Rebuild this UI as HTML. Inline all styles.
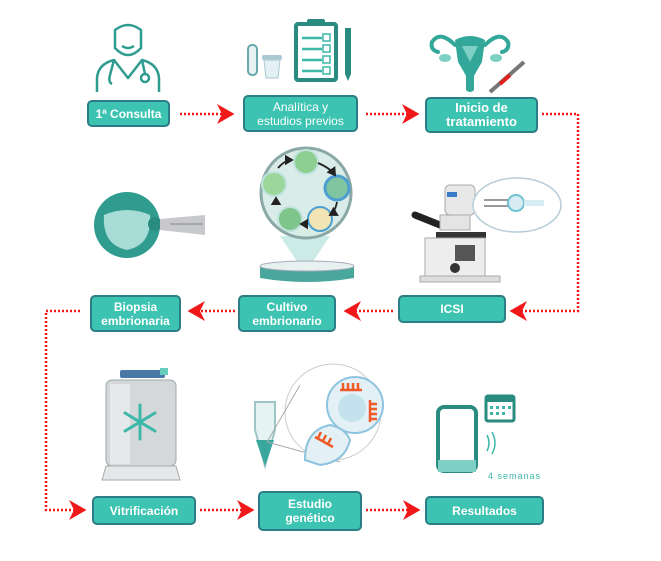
<!DOCTYPE html>
<html><head><style>
body{margin:0;width:661px;height:561px;background:#fff;position:relative;overflow:hidden;font-family:"Liberation Sans",sans-serif}
.b{position:absolute;background:#3cc3b1;border:2px solid #2c7d85;border-radius:5px;color:#fff;font-weight:bold;font-size:12px;line-height:14px;display:flex;align-items:center;justify-content:center;text-align:center;box-sizing:border-box}
svg{position:absolute;left:0;top:0}
</style></head><body>
<svg width="661" height="561">
<defs><marker id="a" markerWidth="8" markerHeight="8" refX="6" refY="4" orient="auto"><path d="M0,0 L7,4 L0,8 L2,4z" fill="#f01818"/></marker>
<marker id="k" markerWidth="6" markerHeight="6" refX="4" refY="3" orient="auto"><path d="M0,0 L5,3 L0,6z" fill="#222"/></marker></defs>
<g stroke="#f01818" stroke-width="2.5" stroke-dasharray="2,2" fill="none" marker-end="url(#a)">
<path d="M180,114 H232"/><path d="M366,114 H417"/>
<path d="M542,114 H578 V311 H512"/>
<path d="M393,311 H346"/><path d="M235,311 H190"/>
<path d="M80,311 H46 V510 H84"/>
<path d="M200,510 H252"/><path d="M366,510 H418"/>
</g>
<g fill="none" stroke="#2f9c90" stroke-width="2.5" stroke-linejoin="round">
<path d="M115,30 Q128,20 141,30 V48 Q128,62 115,48 Z"/>
<path d="M122,46 Q128,50 134,46"/>
<path d="M97,92 V78 Q98,64 114,60 L128,78 L142,60 Q158,64 159,78 V92"/>
<path d="M114,60 L110,75 Q108,82 112,84"/><circle cx="145" cy="78" r="4"/><path d="M142,60 L145,74"/>
</g>
<rect x="248" y="45" width="9" height="30" rx="4" fill="#e6f3f2" stroke="#6aa8b0" stroke-width="2"/>
<rect x="262" y="55" width="20" height="5" rx="2" fill="#aac9d2"/>
<path d="M264,60 h16 l-2,18 h-12z" fill="#e3f0f4" stroke="#aac9d2"/>
<rect x="296" y="24" width="40" height="56" rx="2" fill="#fff" stroke="#2a8c80" stroke-width="4"/>
<rect x="307" y="19" width="18" height="7" rx="2" fill="#2a8c80"/>
<g stroke="#3cb7a8" stroke-width="2.5"><path d="M302,38h20M302,49h20M302,60h20M302,71h20"/></g>
<g fill="none" stroke="#3cb7a8" stroke-width="1.5"><rect x="323" y="34" width="7" height="7"/><rect x="323" y="45" width="7" height="7"/><rect x="323" y="56" width="7" height="7"/><rect x="323" y="67" width="7" height="7"/></g>
<path d="M345,28 h6 v46 l-3,7 l-3,-7z" fill="#2a8c80"/>
<g fill="none" stroke="#33a79a" stroke-width="4" stroke-linecap="round"><path d="M455,45 Q440,30 432,42 Q430,50 438,52"/><path d="M485,45 Q500,30 508,42 Q510,50 502,52"/></g>
<ellipse cx="445" cy="58" rx="6" ry="4" fill="#7fd0c4"/><ellipse cx="496" cy="58" rx="6" ry="4" fill="#7fd0c4"/>
<path d="M455,40 Q470,32 485,40 L482,62 Q476,72 474,76 V90 Q470,94 466,90 V76 Q464,72 458,62 Z" fill="#33a79a"/>
<path d="M462,46 h16 l-8,16z" fill="#7fd0c4"/>
<path d="M490,92 L524,62" stroke="#777" stroke-width="4"/><path d="M500,84 L510,75" stroke="#d22" stroke-width="4"/>
<circle cx="127" cy="225" r="33" fill="#2f9c8f"/>
<path d="M104,215 Q127,205 150,215 Q152,245 127,250 Q102,245 104,215Z" fill="#a8dcd6"/>
<circle cx="155" cy="224" r="7" fill="#2a8c80"/>
<path d="M160,219 L205,215 V235 L160,230Z" fill="#c7c9cc"/><path d="M170,224 H203" stroke="#888"/>
<path d="M280,236 L330,236 L310,266 L300,266Z" fill="#cdebe6"/>
<circle cx="306" cy="193" r="45" fill="#d9ece8" stroke="#8aa8a6" stroke-width="3"/>
<circle cx="306" cy="162" r="12" fill="#8ccf90" stroke="#bfe3dc" stroke-width="2"/>
<circle cx="337" cy="188" r="12" fill="#7fc6a0" stroke="#4c9fd0" stroke-width="3"/>
<circle cx="320" cy="219" r="12" fill="#f1e5b5" stroke="#4c9fd0" stroke-width="2"/>
<circle cx="290" cy="219" r="12" fill="#7dc58a" stroke="#bfe3dc" stroke-width="2"/>
<circle cx="274" cy="184" r="12" fill="#9bd69b" stroke="#bfe3dc" stroke-width="2"/>
<g fill="none" stroke="#222" stroke-width="1.8" marker-end="url(#k)"><path d="M318,163 Q330,168 335,175"/><path d="M337,202 Q335,212 330,215"/><path d="M303,224 h-2"/><path d="M276,204 Q276,200 276,198"/><path d="M278,168 Q285,160 292,160"/></g>
<path d="M260,266 h94 v12 q-47,8 -94,0z" fill="#4aa79d"/><ellipse cx="307" cy="266" rx="47" ry="5" fill="#e7f1f0" stroke="#aab"/>
<rect x="445" y="185" width="30" height="30" rx="5" fill="#e8e8e8" stroke="#aaa"/><rect x="447" y="192" width="10" height="5" fill="#3a7bc8"/>
<path d="M415,215 L440,225" stroke="#222" stroke-width="7" stroke-linecap="round"/>
<rect x="440" y="215" width="30" height="15" fill="#e4e4e4" stroke="#aaa"/>
<rect x="436" y="232" width="50" height="6" fill="#333"/>
<path d="M425,238 h60 v40 h-60z" fill="#ededed" stroke="#aaa"/>
<rect x="455" y="245" width="20" height="16" fill="#555"/><circle cx="455" cy="268" r="5" fill="#333"/>
<rect x="420" y="276" width="80" height="6" fill="#ddd" stroke="#aaa"/>
<ellipse cx="517" cy="205" rx="44" ry="27" fill="#fff" stroke="#b6ccd8" stroke-width="1.5"/>
<circle cx="516" cy="203" r="8" fill="#d7ecf3" stroke="#6fc2d6" stroke-width="2"/>
<path d="M484,200 h24 M484,206 h24" stroke="#999" stroke-width="2"/><rect x="524" y="200" width="20" height="6" fill="#d7ecf3"/>
<rect x="120" y="370" width="45" height="8" rx="2" fill="#4a79a8"/><rect x="160" y="368" width="8" height="7" fill="#6cb"/>
<rect x="106" y="380" width="70" height="86" rx="6" fill="#d4d8da" stroke="#9aa"/>
<rect x="110" y="384" width="20" height="80" fill="#e6e9ea"/>
<g stroke="#3cb7a8" stroke-width="3" stroke-linecap="round"><path d="M140,405v34M125,413l30,18M155,413l-30,18"/></g>
<path d="M106,466 h70 l4,14 h-78z" fill="#e5e8e9" stroke="#aaa"/>
<path d="M255,402 h20 v28 l-10,36 l-10,-36z" fill="#e6f3f3" stroke="#9fc4c8" stroke-width="2"/>
<path d="M256,440 h18 l-9,26z" fill="#3aa79c"/>
<circle cx="333" cy="412" r="48" fill="#fff" stroke="#ccc"/>
<path d="M267,442 L300,385 M267,442 L340,462" stroke="#aaa"/>
<circle cx="355" cy="405" r="28" fill="#e3f1f7" stroke="#8dc3de" stroke-width="2"/><circle cx="352" cy="408" r="14" fill="#c3e1ef"/>
<path d="M305,460 Q305,430 330,425 Q345,428 350,440 Q345,462 320,465Z" fill="#e3f1f7" stroke="#8dc3de" stroke-width="2"/>
<g stroke="#f05a28" stroke-width="2.5"><path d="M340,390h22M343,390v-7M348,390v-7M353,390v-7M358,390v-7"/><path d="M370,400v22M370,404h7M370,409h7M370,414h7M370,419h7"/><path d="M315,437l18,10M318,438l3,-6M323,441l3,-6M328,444l3,-6"/></g>
<rect x="438" y="407" width="38" height="64" rx="6" fill="#fff" stroke="#2a8c80" stroke-width="4"/>
<rect x="438" y="460" width="38" height="12" fill="#7fd0c4"/>
<path d="M487,435 q4,8 0,16 M492,432 q6,11 0,22" fill="none" stroke="#3cb7a8" stroke-width="1.5"/>
<rect x="486" y="396" width="28" height="25" rx="2" fill="#fff" stroke="#2a8c80" stroke-width="3"/><rect x="486" y="396" width="28" height="6" fill="#2a8c80"/>
<g fill="#3cb7a8"><rect x="490" y="406" width="3" height="3"/><rect x="496" y="406" width="3" height="3"/><rect x="502" y="406" width="3" height="3"/><rect x="508" y="406" width="3" height="3"/><rect x="490" y="412" width="3" height="3"/><rect x="496" y="412" width="3" height="3"/><rect x="502" y="412" width="3" height="3"/></g>
<text x="488" y="479" font-size="9" fill="#3cb7a8" font-family="Liberation Sans" letter-spacing="1">4 semanas</text>
</svg>
<div class="b" style="left:87px;top:100px;width:83px;height:27px">1ª Consulta</div>
<div class="b" style="left:243px;top:95px;width:115px;height:37px;font-weight:normal">Analítica y<br>estudios previos</div>
<div class="b" style="left:425px;top:97px;width:113px;height:36px;font-size:13px">Inicio de<br>tratamiento</div>
<div class="b" style="left:90px;top:295px;width:91px;height:37px">Biopsia<br>embrionaria</div>
<div class="b" style="left:238px;top:295px;width:98px;height:37px">Cultivo<br>embrionario</div>
<div class="b" style="left:398px;top:295px;width:108px;height:28px">ICSI</div>
<div class="b" style="left:92px;top:496px;width:104px;height:29px">Vitrificación</div>
<div class="b" style="left:258px;top:491px;width:104px;height:40px">Estudio<br>genético</div>
<div class="b" style="left:425px;top:496px;width:119px;height:29px">Resultados</div>
</body></html>
